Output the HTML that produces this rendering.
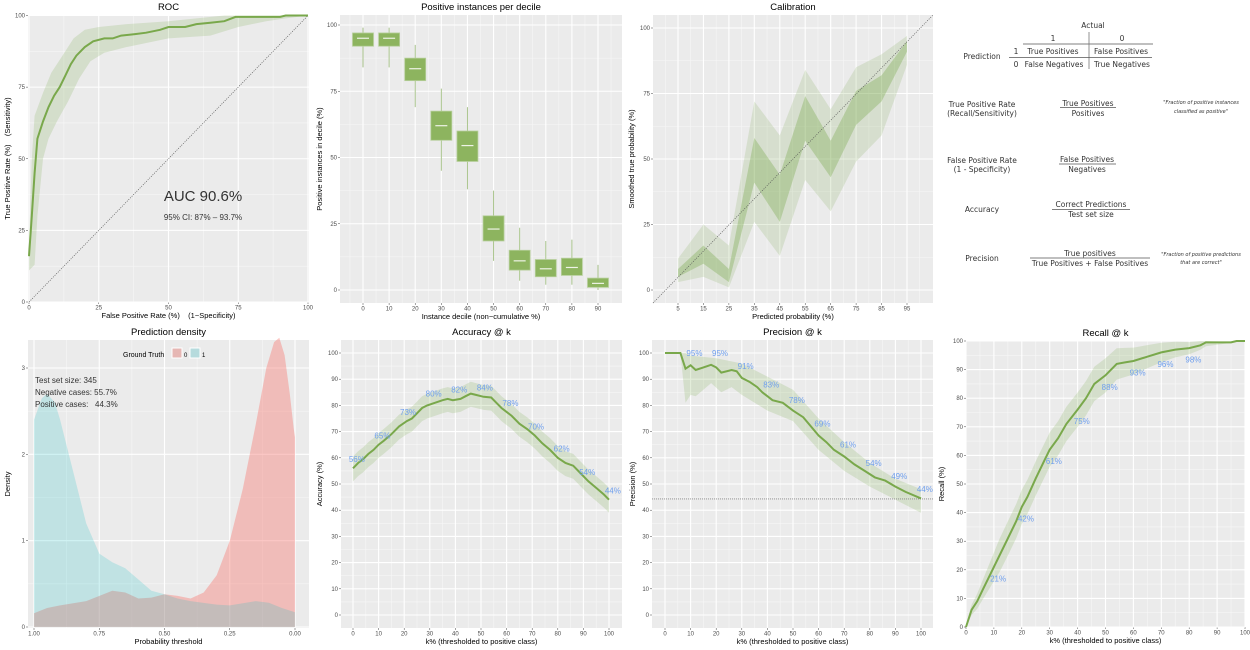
<!DOCTYPE html>
<html><head><meta charset="utf-8">
<style>
html,body{margin:0;padding:0;background:#fff;width:1250px;height:650px;overflow:hidden}
svg{display:block}
text{font-family:"Liberation Sans",sans-serif}
.tk{font-size:6px;fill:#4d4d4d}
.at{font-size:7.5px;fill:#000}
.tt{font-size:9.5px;fill:#000}
.tb text{font-family:"DejaVu Sans","Liberation Sans",sans-serif;font-size:7.5px;fill:#333}
.tb .nt{font-size:5px;font-style:italic}
.lb{font-size:8px;fill:#6f9fee}
</style></head><body>
<svg id="s" width="1250" height="650" xmlns="http://www.w3.org/2000/svg">
<g class="tb">
<text x="1093" y="28" text-anchor="middle">Actual</text>
<text x="1053" y="41" text-anchor="middle">1</text>
<text x="1122" y="41" text-anchor="middle">0</text>
<line x1="1023" y1="44" x2="1153" y2="44" stroke="#555" stroke-width="0.8"/>
<line x1="1089" y1="32" x2="1089" y2="69" stroke="#777" stroke-width="0.8"/>
<text x="982" y="59" text-anchor="middle">Prediction</text>
<text x="1016" y="54" text-anchor="middle">1</text>
<text x="1016" y="67" text-anchor="middle">0</text>
<line x1="1009" y1="57.5" x2="1152" y2="57.5" stroke="#555" stroke-width="0.8"/>
<text x="1053" y="54" text-anchor="middle">True Positives</text>
<text x="1121" y="54" text-anchor="middle">False Positives</text>
<text x="1054" y="67" text-anchor="middle">False Negatives</text>
<text x="1122" y="67" text-anchor="middle">True Negatives</text>
<text x="982" y="107" text-anchor="middle">True Positive Rate</text>
<text x="982" y="116" text-anchor="middle">(Recall/Sensitivity)</text>
<text x="1088" y="106" text-anchor="middle">True Positives</text>
<line x1="1060" y1="107.5" x2="1116" y2="107.5" stroke="#555" stroke-width="0.8"/>
<text x="1088" y="116" text-anchor="middle">Positives</text>
<text class="nt" x="1201" y="104" text-anchor="middle">"Fraction of positive instances</text>
<text class="nt" x="1201" y="113" text-anchor="middle">classified as positive"</text>
<text x="982" y="163" text-anchor="middle">False Positive Rate</text>
<text x="982" y="172" text-anchor="middle">(1 - Specificity)</text>
<text x="1087" y="162" text-anchor="middle">False Positives</text>
<line x1="1059" y1="164" x2="1116" y2="164" stroke="#555" stroke-width="0.8"/>
<text x="1087" y="172" text-anchor="middle">Negatives</text>
<text x="982" y="212" text-anchor="middle">Accuracy</text>
<text x="1091" y="207" text-anchor="middle">Correct Predictions</text>
<line x1="1052" y1="209.5" x2="1130" y2="209.5" stroke="#555" stroke-width="0.8"/>
<text x="1091" y="217" text-anchor="middle">Test set size</text>
<text x="982" y="261" text-anchor="middle">Precision</text>
<text x="1090" y="256" text-anchor="middle">True positives</text>
<line x1="1030" y1="258" x2="1150" y2="258" stroke="#555" stroke-width="0.8"/>
<text x="1090" y="266" text-anchor="middle">True Positives + False Positives</text>
<text class="nt" x="1201" y="256" text-anchor="middle">"Fraction of positive predictions</text>
<text class="nt" x="1201" y="264" text-anchor="middle">that are correct"</text>
</g>
</svg>
<script>
var S=document.getElementById('s'),NS='http://www.w3.org/2000/svg';
function el(t,a,txt){var e=document.createElementNS(NS,t);for(var k in a)e.setAttribute(k,a[k]);if(txt!=null)e.textContent=txt;S.appendChild(e);return e;}
function lin(a0,a1,b0,b1){return function(v){return b0+(v-a0)*(b1-b0)/(a1-a0);};}
function path(pts,X,Y){return pts.map(function(p,i){return (i?'L':'M')+X(p[0]).toFixed(1)+','+Y(p[1]).toFixed(1);}).join('');}
function ribbon(up,lo,X,Y){return path(up,X,Y)+path(lo.slice().reverse(),X,Y).replace('M','L')+'Z';}
function panel(o){
 el('rect',{x:o.x0,y:o.y0,width:o.x1-o.x0,height:o.y1-o.y0,fill:'#ebebeb'});
 (o.xminor||[]).forEach(function(v){var x=o.X(v);el('line',{x1:x,x2:x,y1:o.y0,y2:o.y1,stroke:'#f7f7f7','stroke-width':0.6});});
 (o.yminor||[]).forEach(function(v){var y=o.Y(v);el('line',{x1:o.x0,x2:o.x1,y1:y,y2:y,stroke:'#f7f7f7','stroke-width':0.6});});
 o.xt.forEach(function(v){var x=o.X(v);el('line',{x1:x,x2:x,y1:o.y0,y2:o.y1,stroke:'#fff','stroke-width':1.1});
   el('line',{x1:x,x2:x,y1:o.y1,y2:o.y1+2,stroke:'#444','stroke-width':0.5});
   el('text',{x:x,y:o.y1+7.5,'class':'tk','text-anchor':'middle'},o.xl?o.xl(v):v);});
 o.yt.forEach(function(v){var y=o.Y(v);el('line',{x1:o.x0,x2:o.x1,y1:y,y2:y,stroke:'#fff','stroke-width':1.1});
   el('line',{x1:o.x0-2,x2:o.x0,y1:y,y2:y,stroke:'#444','stroke-width':0.5});
   el('text',{x:o.x0-3,y:y+2,'class':'tk','text-anchor':'end'},v);});
 el('text',{x:(o.x0+o.x1)/2,y:o.y0-5,'class':'tt','text-anchor':'middle'},o.title);
 el('text',{x:(o.x0+o.x1)/2,y:o.y1+16,'class':'at','text-anchor':'middle'},o.xlab);
 var cy=(o.y0+o.y1)/2,cx=o.ylx;
 el('text',{x:cx,y:cy,'class':'at','text-anchor':'middle',transform:'rotate(-90 '+cx+' '+cy+')'},o.ylab);
}
var G='#79a84b',R='rgba(121,168,75,0.2)';
function rng(a,b,s){var r=[];for(var v=a;v<=b+1e-9;v+=s)r.push(+v.toFixed(3));return r;}

// ROC
var X=lin(0,100,29,308),Y=lin(0,100,302,15.5);
panel({x0:28,x1:309,y0:15,y1:302,X:X,Y:Y,xt:[0,25,50,75,100],yt:[0,25,50,75,100],xminor:[12.5,37.5,62.5,87.5],yminor:[12.5,37.5,62.5,87.5],title:'ROC',xlab:'False Positive Rate (%)\u00a0\u00a0\u00a0\u00a0(1\u2212Specificity)',ylab:'True Positive Rate (%)\u00a0\u00a0\u00a0\u00a0(Sensitivity)',ylx:10});
var up=[[0,20],[1,50],[2,65],[5,73],[8,80],[12,86],[16,92],[20,95],[25,96],[35,97],[50,98],[70,100],[100,100]];
var lo=[[0,11],[2,13],[3,30],[5,50],[7,57],[10,63],[14,70],[18,78],[22,84],[27,87],[35,89],[50,92],[65,93],[75,96],[85,98],[92,99],[100,100]];
el('path',{d:ribbon(up,lo,X,Y),fill:R});
el('line',{x1:X(0),y1:Y(0),x2:X(100),y2:Y(100),stroke:'#555','stroke-width':0.7,'stroke-dasharray':'1,1.3'});
var roc=[[0,16],[1,30],[2,45],[3,57],[5,63],[7,68],[9,72],[11,75],[13,79],[15,83],[17,86],[20,89],[23,91],[27,92],[30,92],[33,93],[38,93.5],[42,94],[47,95],[50,96],[56,96],[60,97],[65,97.5],[70,98],[74,99.5],[90,99.5],[92,100],[100,100]];
el('path',{d:path(roc,X,Y),fill:'none',stroke:G,'stroke-width':2});
el('text',{x:203,y:201,'text-anchor':'middle','font-size':15,fill:'#333'},'AUC 90.6%');
el('text',{x:203,y:220,'text-anchor':'middle','font-size':8,fill:'#333'},'95% CI: 87% \u2013 93.7%');

// Deciles
X=lin(0,90,363,598);Y=lin(0,100,290,25);
panel({x0:340,x1:622,y0:15,y1:303,X:X,Y:Y,xt:rng(0,90,10),yt:[0,25,50,75,100],xminor:rng(-5,95,10),yminor:[12.5,37.5,62.5,87.5],title:'Positive instances per decile',xlab:'Instance decile (non\u2212cumulative %)',ylab:'Positive instances in decile (%)',ylx:322});
[[92,97,95,84,99],[92,97,95,84,99],[79,87.5,83.5,69,92.5],[56.5,67.5,62,45,76],[48.5,60,54.5,38,69],[18.5,28,23,11,37.5],[7.5,15,11,3.5,23.5],[5,11.5,8,2,18.5],[5.5,12,8.5,2,19],[1,4.5,2.5,0,9.5]].forEach(function(b,i){
 var x=X(i*10);el('line',{x1:x,x2:x,y1:Y(b[3]),y2:Y(b[4]),stroke:'#a9c48c','stroke-width':1});
 el('rect',{x:x-10.5,y:Y(b[1]),width:21,height:Y(b[0])-Y(b[1]),fill:'#8db45f',stroke:'#b7cf9c','stroke-width':0.8});
 el('line',{x1:x-6,x2:x+6,y1:Y(b[2]),y2:Y(b[2]),stroke:'#eef3e6','stroke-width':1.2});
});

// Calibration
X=lin(5,95,678,907);Y=lin(0,100,290,28);
panel({x0:653,x1:933,y0:15,y1:303,X:X,Y:Y,xt:rng(5,95,10),yt:[0,25,50,75,100],xminor:rng(0,100,10),yminor:[12.5,37.5,62.5,87.5],title:'Calibration',xlab:'Predicted probability (%)',ylab:'Smoothed true probability (%)',ylx:634});
var ks=rng(5,95,10);
var iu=[8,17,8,58,44,74,57,76,82,95],il=[5,10,3,41,26,57,43,63,72,91],ou=[12,25,17,72,59,84,69,85,90,97],ol=[3,5,1,26,13,42,30,49,59,86];
function z(a){return ks.map(function(k,i){return[k,a[i]];});}
el('path',{d:ribbon(z(ou),z(ol),X,Y),fill:'rgba(121,168,75,0.18)'});
el('path',{d:ribbon(z(iu),z(il),X,Y),fill:'rgba(121,168,75,0.35)'});
el('line',{x1:653,y1:303,x2:933,y2:15,stroke:'#555','stroke-width':0.7,'stroke-dasharray':'1,1.3'});

// Density
X=lin(1,0,34,295);Y=lin(0,3,627,368);
panel({x0:28,x1:309,y0:340,y1:628,X:X,Y:Y,xt:[1,0.75,0.5,0.25,0],xl:function(v){return v.toFixed(2);},yt:[0,1,2,3],xminor:[0.875,0.625,0.375,0.125],yminor:[0.5,1.5,2.5],title:'Prediction density',xlab:'Probability threshold',ylab:'Density',ylx:10});
var blue=[[1,2.4],[0.97,2.65],[0.95,2.7],[0.92,2.6],[0.9,2.4],[0.85,1.8],[0.8,1.2],[0.75,0.85],[0.7,0.75],[0.65,0.68],[0.6,0.55],[0.55,0.42],[0.5,0.38],[0.45,0.33],[0.4,0.3],[0.3,0.26],[0.25,0.25],[0.15,0.3],[0.1,0.28],[0.05,0.22],[0,0.17],[0,0]];
var red=[[1,0.16],[0.95,0.22],[0.9,0.25],[0.8,0.3],[0.7,0.42],[0.65,0.4],[0.6,0.33],[0.55,0.34],[0.5,0.38],[0.45,0.36],[0.4,0.33],[0.35,0.4],[0.3,0.6],[0.25,1.0],[0.2,1.6],[0.15,2.35],[0.11,3.0],[0.08,3.3],[0.06,3.35],[0.04,3.15],[0.02,2.7],[0.005,2.3],[0,2.2],[0,0]];
el('path',{d:path([[1,0]].concat(red),X,Y)+'Z',fill:'rgba(248,118,109,0.4)'});
el('path',{d:path([[1,0]].concat(blue),X,Y)+'Z',fill:'rgba(0,191,196,0.18)'});
el('text',{x:123,y:357,'font-size':7,fill:'#000'},'Ground Truth');
el('rect',{x:172,y:348,width:10,height:10,fill:'#e6b7b4',stroke:'#fff','stroke-width':1});
el('text',{x:184,y:357,'font-size':6,fill:'#000'},'0');
el('rect',{x:190,y:348,width:10,height:10,fill:'#b6dbdd',stroke:'#fff','stroke-width':1});
el('text',{x:202,y:357,'font-size':6,fill:'#000'},'1');
['Test set size: 345','Negative cases: 55.7%','Positive cases:\u00a0\u00a0\u00a044.3%'].forEach(function(t,i){el('text',{x:35,y:383+i*12,'font-size':8,fill:'#333'},t);});

// k panels
function kpanel(x0,x1,kx0,kx1,y0,y1,vy0,vy1,title,ylab,ylx,cur,up,lo,labs,dx,dy){
 var X=lin(0,100,kx0,kx1),Y=lin(0,100,vy0,vy1);
 panel({x0:x0,x1:x1,y0:y0,y1:y1,X:X,Y:Y,xt:rng(0,100,10),yt:rng(0,100,10),xminor:rng(5,95,10),yminor:rng(5,95,10),title:title,xlab:'k% (thresholded to positive class)',ylab:ylab,ylx:ylx});
 el('path',{d:ribbon(up,lo,X,Y),fill:R});
 return {X:X,Y:Y,draw:function(){el('path',{d:path(cur,X,Y),fill:'none',stroke:G,'stroke-width':2});
  labs.forEach(function(l){el('text',{x:X(l[0]+dx),y:Y(l[1]+dy)+3,'class':'lb','text-anchor':'middle'},l[2]+'%');});}};
}
function band(c,f){return c.map(function(p){return[p[0],f(p)];});}
var acc=[[0,56],[2,58],[4,59.5],[6,61.5],[8,63],[10,65],[12,66.5],[15,69],[18,72],[21,74],[23,75],[25,77],[27,79],[29,80],[32,81],[35,82],[37,82.5],[39,82],[42,82.5],[44,83.5],[46,84.5],[48,84],[51,83.3],[54,83],[56,81],[58,79],[60,77.5],[62,76],[65,73],[68,71],[71,68.5],[74,65.5],[77,63],[80,60],[83,58],[86,57],[89,54],[92,51],[95,48.5],[98,46],[100,44]];
var A=kpanel(341,622,353,609,340,628,615,353,'Accuracy @ k','Accuracy (%)',322,acc,band(acc,function(p){return p[1]+4.5;}),band(acc,function(p){return p[1]-5;}),
 [[0,56,56],[10,65,65],[20,73,73],[30,80,80],[40,82,82],[50,84,84],[60,78,78],[70,70,70],[80,62,62],[90,54,54],[100,44,44]].map(function(a){var v=acc.filter(function(p){return p[0]>=a[0];})[0][1];return[a[0],v,a[2]];}),1.5,3.5);
A.draw();

var prc=[[0,100],[6,100],[8,94],[10,95.3],[12,93.5],[15,94.5],[18,95.5],[20,94.5],[22,92.5],[26,93.5],[28,93],[30,90.5],[33,89],[36,87],[38,85],[40,83.5],[42,82],[46,81],[50,78],[54,75.5],[57,72],[60,68.5],[63,66],[66,63],[70,60.5],[74,57.5],[78,55],[82,52.5],[86,51.3],[90,49],[94,47],[100,44.5]];
var pu=[[6,100],[8,100],[10,99],[20,98],[30,96],[40,91],[50,86],[60,75],[70,66],[80,58],[90,52],[100,48]];
var pl=[[6,100],[8,81],[10,84],[12,83.5],[15,86],[18,88.5],[22,85],[26,87],[30,84],[40,78],[50,74],[60,63],[70,55],[80,49],[90,44],[100,39]];
var P=kpanel(652,933,665,921,340,628,615,353,'Precision @ k','Precision (%)',635,prc,pu,pl,
 [[10,96,95],[20,96,95],[30,91,91],[40,84,83],[50,78,78],[60,69,69],[70,61,61],[80,54,54],[90,49,49],[100,44,44]],1.5,4);
el('line',{x1:652,x2:933,y1:P.Y(44.3),y2:P.Y(44.3),stroke:'#888','stroke-width':0.8,'stroke-dasharray':'1,1'});
P.draw();

var rec=[[0,0],[2,6],[4,9],[6,13],[8,17],[10,21],[12,25],[15,31],[18,37],[20,42],[22,45.5],[25,52],[28,58],[30,62],[33,66],[36,71],[40,76],[43,80],[46,85],[50,88],[54,92],[57,92.5],[60,93],[65,94.5],[70,96],[75,97],[80,97.5],[84,98.5],[86,99.5],[95,99.5],[97,100],[100,100]];
function w(k){return k<50?Math.min(6,1+k*0.4):Math.max(0,6-(k-50)*0.13);}
var Rc=kpanel(966,1245,966,1245,341,627,627,341,'Recall @ k','Recall (%)',944,rec,band(rec,function(p){return Math.min(100,p[1]+w(p[0]));}),band(rec,function(p){return Math.max(0,p[1]-w(p[0]));}),
 [[10,21,21],[20,42,42],[30,62,61],[40,76,75],[50,88,88],[60,93,93],[70,96,96],[80,97.5,98]],1.5,-4);
Rc.draw();
</script>
</body></html>
